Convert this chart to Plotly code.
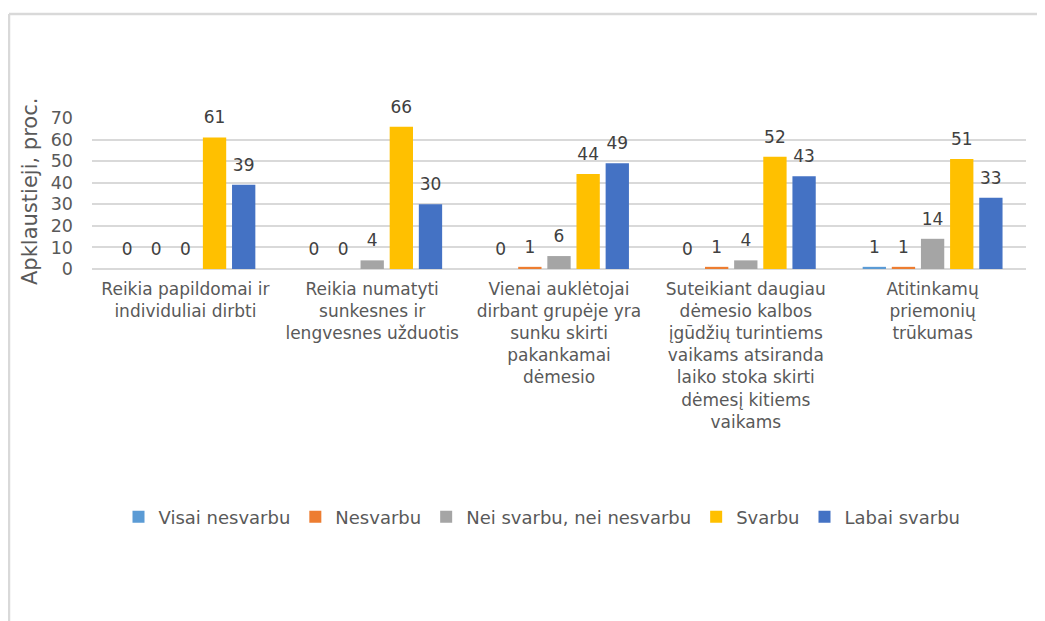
import plotly.graph_objects as go

categories = [
    "Reikia papildomai ir<br>individuliai dirbti",
    "Reikia numatyti<br>sunkesnes ir<br>lengvesnes užduotis",
    "Vienai auklėtojai<br>dirbant grupėje yra<br>sunku skirti<br>pakankamai<br>dėmesio",
    "Suteikiant daugiau<br>dėmesio kalbos<br>įgūdžių turintiems<br>vaikams atsiranda<br>laiko stoka skirti<br>dėmesį kitiems<br>vaikams",
    "Atitinkamų<br>priemonių<br>trūkumas",
]

visai_nesvarbu = [0, 0, 0, 0, 1]
nesvarbu = [0, 0, 1, 1, 1]
nei_svarbu = [0, 4, 6, 4, 14]
svarbu = [61, 66, 44, 52, 51]
labai_svarbu = [39, 30, 49, 43, 33]

series = [
    ("Visai nesvarbu", visai_nesvarbu, "#5B9BD5"),
    ("Nesvarbu", nesvarbu, "#ED7D31"),
    ("Nei svarbu, nei nesvarbu", nei_svarbu, "#A5A5A5"),
    ("Svarbu", svarbu, "#FFC000"),
    ("Labai svarbu", labai_svarbu, "#4472C4"),
]

FONT = "DejaVu Sans, sans-serif"
GRID = "#D9D9D9"
TXT = "#595959"

# the page body adds an 8px offset, so the figure is laid out from (8, 8)
OFF = 8
FW, FH = 1045 - OFF, 621 - OFF

fig = go.Figure()
for name, vals, color in series:
    fig.add_trace(go.Bar(
        x=categories,
        y=vals,
        name=name,
        marker=dict(color=color, line=dict(width=0)),
    ))

# value labels: grouped scatter text, lifted by an invisible marker
for name, vals, color in series:
    fig.add_trace(go.Scatter(
        x=categories,
        y=vals,
        orientation="v",
        mode="markers+text",
        text=[str(v) for v in vals],
        textposition="top center",
        textfont=dict(size=17, color="#404040", family=FONT),
        marker=dict(size=14, color="rgba(0,0,0,0)"),
        showlegend=False,
        hoverinfo="skip",
        cliponaxis=False,
    ))

# plot area in window pixels: x 92..1026, y 118..269
L, R, T, B = 92 - OFF, 1026 - OFF, 118 - OFF, 269 - OFF
W, H = R - L, B - T

def px_x(x):
    return (x - OFF - L) / W

def px_y(y):
    return (B - (y - OFF)) / H

fig.update_layout(
    width=FW,
    height=FH,
    barmode="group",
    bargap=0.22,
    bargroupgap=0.2,
    scattermode="group",
    scattergap=0.22,
    plot_bgcolor="white",
    paper_bgcolor="white",
    margin=dict(l=L, r=FW - R, t=T, b=FH - B, autoexpand=False),
    font=dict(family=FONT, color=TXT),
    xaxis=dict(
        tickfont=dict(size=17, color=TXT),
        showline=False,
        ticks="",
        tickangle=0,
        ticklabelstandoff=8,
    ),
    yaxis=dict(
        range=[0, 70],
        dtick=10,
        tickfont=dict(size=17.5, color=TXT),
        gridcolor=GRID,
        gridwidth=1.5,
        zeroline=True,
        zerolinecolor=GRID,
        zerolinewidth=1.5,
        showline=False,
        ticklabelstandoff=18,
    ),
    legend=dict(
        orientation="h",
        x=px_x(542), xanchor="center",
        y=px_y(517), yanchor="middle",
        font=dict(size=18, color=TXT),
        itemwidth=30,
        traceorder="normal",
    ),
    showlegend=True,
    annotations=[dict(
        text="Apklaustieji, proc.",
        textangle=-90,
        xref="paper", yref="paper",
        x=px_x(30), y=px_y(192),
        xanchor="center", yanchor="middle",
        showarrow=False,
        font=dict(size=21, color=TXT),
    )],
    shapes=[
        dict(type="line", xref="paper", yref="paper",
             x0=px_x(9), x1=px_x(1060), y0=px_y(14), y1=px_y(14),
             line=dict(color=GRID, width=2.5)),
        dict(type="line", xref="paper", yref="paper",
             x0=px_x(9), x1=px_x(9), y0=px_y(14), y1=px_y(640),
             line=dict(color=GRID, width=2.5)),
    ],
)

fig.write_html("out.html")
